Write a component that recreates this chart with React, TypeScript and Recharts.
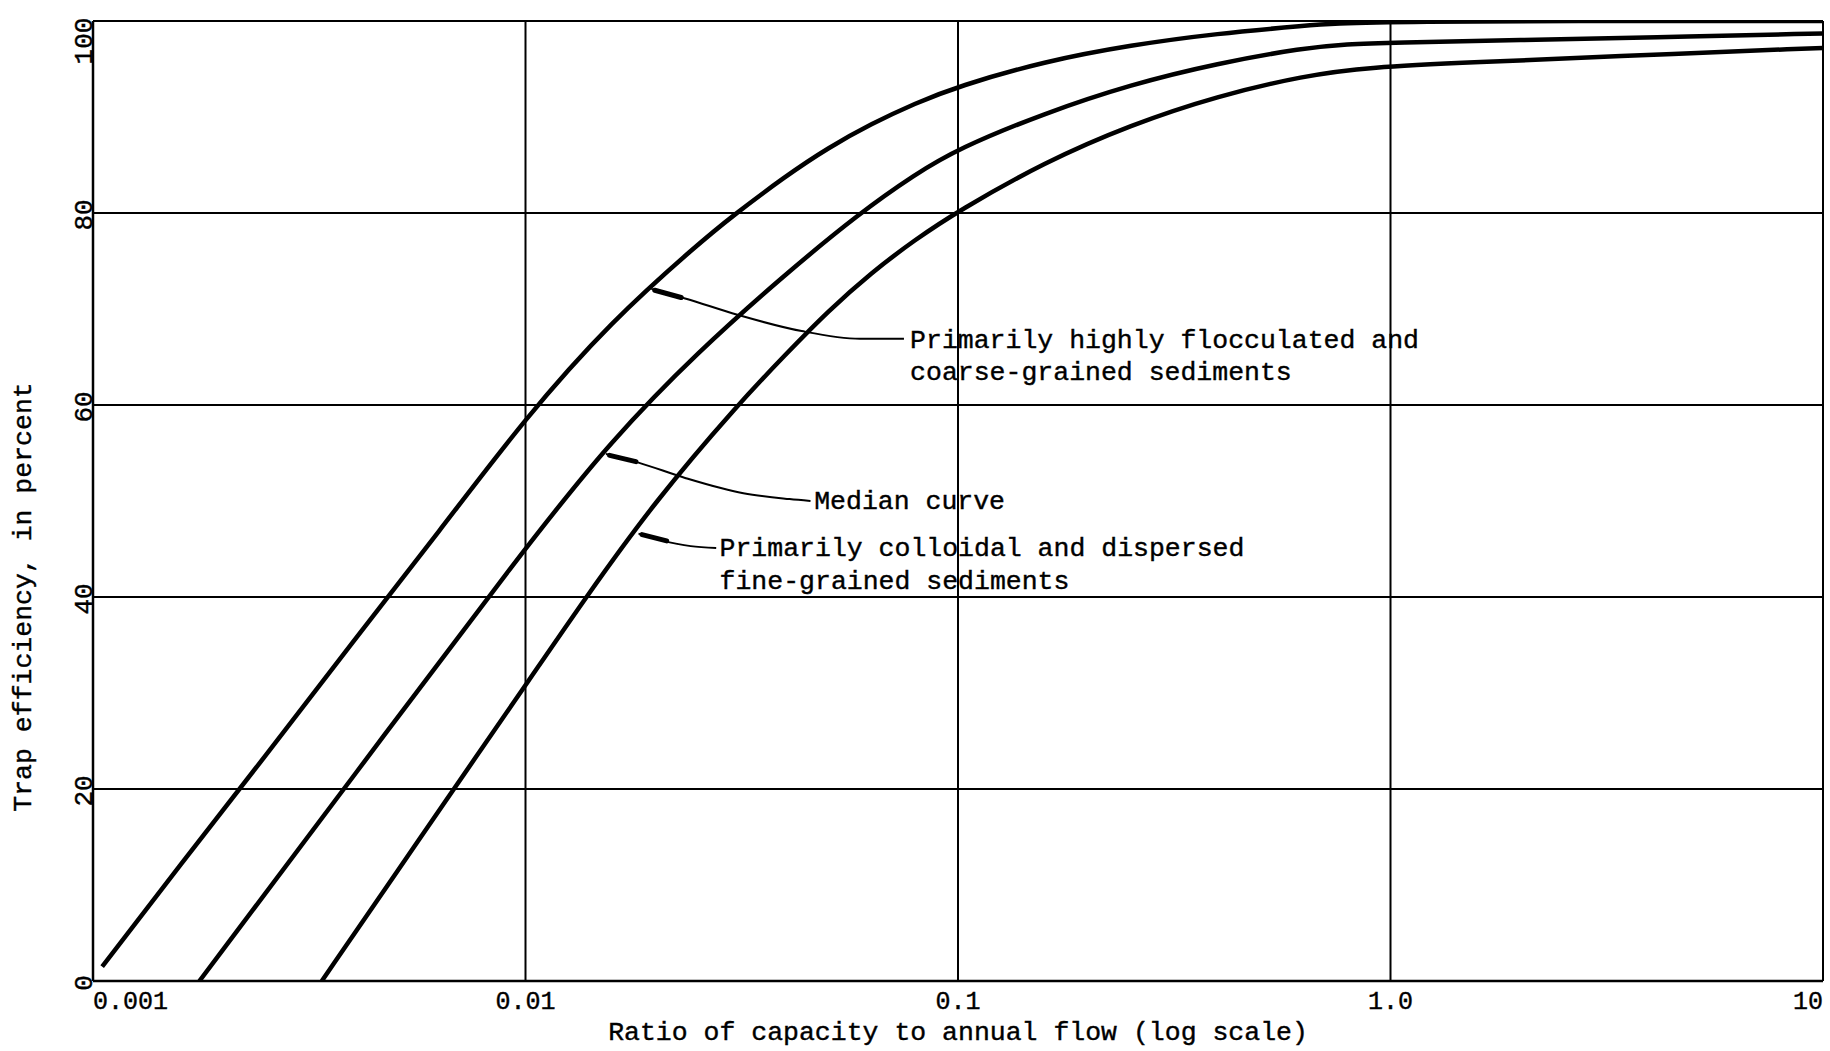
import React from 'react';
import { ComposedChart, Line, XAxis, YAxis, CartesianGrid, Scatter } from 'recharts';

if (typeof document !== 'undefined') {
  document.body.style.margin = '0';
  document.body.style.overflow = 'hidden';
}

const FONT = '"Liberation Mono", "DejaVu Sans Mono", monospace';

const xTicks = [0.001, 0.01, 0.1, 1, 10];
const xTickLabels = ['0.001', '0.01', '0.1', '1.0', '10'];
const yTicks = [0, 20, 40, 60, 80, 100];
const yTickLabels = ['0', '20', '40', '60', '80', '100'];

const xTitle = 'Ratio of capacity to annual flow (log scale)';
const yTitle = 'Trap efficiency, in percent';

// Primarily highly flocculated and coarse-grained sediments (upper envelope)
const flocculated = [
  { x: 0.00105, y: 1.5 }, { x: 0.001585, y: 12 }, { x: 0.002512, y: 23.5 }, { x: 0.003981, y: 35.3 },
  { x: 0.00631, y: 46.8 }, { x: 0.01, y: 58.7 }, { x: 0.01585, y: 68.8 }, { x: 0.02512, y: 76.8 },
  { x: 0.02992, y: 79.6 }, { x: 0.03981, y: 83.8 }, { x: 0.05012, y: 86.8 },
  { x: 0.0631, y: 89.3 }, { x: 0.07943, y: 91.4 }, { x: 0.1, y: 93.2 }, { x: 0.1585, y: 95.8 },
  { x: 0.2512, y: 97.5 }, { x: 0.3981, y: 98.7 }, { x: 0.631, y: 99.5 }, { x: 0.851, y: 100 },
  { x: 10, y: 100 },
];

// Median curve
const median = [
  { x: 0.001762, y: 0 }, { x: 0.003981, y: 21.2 }, { x: 0.01, y: 45.2 }, { x: 0.01585, y: 56.4 },
  { x: 0.02512, y: 65.6 }, { x: 0.03981, y: 73.6 }, { x: 0.05929, y: 80 },
  { x: 0.07943, y: 84 }, { x: 0.1, y: 86.7 }, { x: 0.1585, y: 90.4 }, { x: 0.2512, y: 93.4 },
  { x: 0.3981, y: 95.6 }, { x: 0.631, y: 97.2 }, { x: 0.7943, y: 97.6 }, { x: 1, y: 97.75 },
  { x: 1.995, y: 98.0 }, { x: 3.981, y: 98.3 }, { x: 10, y: 98.7 },
];

// Primarily colloidal and dispersed fine-grained sediments (lower envelope)
const colloidal = [
  { x: 0.003381, y: 0 }, { x: 0.005012, y: 11.2 }, { x: 0.007943, y: 24.3 }, { x: 0.01, y: 30.8 },
  { x: 0.0138, y: 40 }, { x: 0.01995, y: 50 }, { x: 0.0309, y: 60 }, { x: 0.03981, y: 65.2 },
  { x: 0.05012, y: 69.8 }, { x: 0.0631, y: 73.8 }, { x: 0.07943, y: 77.2 }, { x: 0.1, y: 80.2 },
  { x: 0.1585, y: 85.3 }, { x: 0.2512, y: 89.2 }, { x: 0.3981, y: 92.2 }, { x: 0.631, y: 94.3 },
  { x: 0.8913, y: 95.2 }, { x: 1.585, y: 95.7 }, { x: 3.162, y: 96.3 }, { x: 10, y: 97.2 },
];

// Leader lines from labels to curves
const leaderFlocculated = [
  { x: 0.01954, y: 72.1 }, { x: 0.02339, y: 71.1 }, { x: 0.0309, y: 69.4 },
  { x: 0.0435, y: 67.7 }, { x: 0.0593, y: 66.9 }, { x: 0.075, y: 66.9 },
];
const leaderMedian = [
  { x: 0.01535, y: 54.9 }, { x: 0.01825, y: 54.0 }, { x: 0.02339, y: 52.4 },
  { x: 0.0319, y: 50.8 }, { x: 0.0408, y: 50.2 }, { x: 0.0456, y: 50.0 },
];
const leaderColloidal = [
  { x: 0.01825, y: 46.6 }, { x: 0.02065, y: 45.9 }, { x: 0.0241, y: 45.3 }, { x: 0.0276, y: 45.1 },
];

// Arrow heads (thick short segments near curve)
const arrowFlocculated = [{ x: 0.0199, y: 71.95 }, { x: 0.0229, y: 71.2 }];
const arrowMedian = [{ x: 0.01565, y: 54.75 }, { x: 0.0180, y: 54.1 }];
const arrowColloidal = [{ x: 0.0186, y: 46.5 }, { x: 0.0212, y: 45.85 }];

// Annotation text lines
const annotations = [
  { x: 0.0775, y: 66.7, text: 'Primarily highly flocculated and' },
  { x: 0.0775, y: 63.3, text: 'coarse-grained sediments' },
  { x: 0.0465, y: 49.9, text: 'Median curve' },
  { x: 0.0281, y: 45.0, text: 'Primarily colloidal and dispersed' },
  { x: 0.0281, y: 41.6, text: 'fine-grained sediments' },
];

const XTick = (props: any) => {
  const { x, y, payload } = props;
  const i = xTicks.indexOf(payload.value);
  const anchor = i === 0 ? 'start' : i === xTicks.length - 1 ? 'end' : 'middle';
  return (
    <text x={x} y={y + 28} textAnchor={anchor} fontFamily={FONT} fontSize={25} fill="#000" stroke="#000" strokeWidth={0.4}>
      {xTickLabels[i] ?? String(payload.value)}
    </text>
  );
};

const YTick = (props: any) => {
  const { x, y, payload } = props;
  const i = yTicks.indexOf(payload.value);
  const cy = payload.value === 100 ? y + 20 : y + 2;
  const bx = x - 1;
  return (
    <text
      x={bx}
      y={cy}
      transform={`rotate(-90, ${bx}, ${cy})`}
      textAnchor="middle"
      fontFamily={FONT}
      fontSize={26}
      fill="#000"
      stroke="#000"
      strokeWidth={0.4}
    >
      {yTickLabels[i] ?? String(payload.value)}
    </text>
  );
};

const AnnotationShape = (props: any) => {
  const { cx, cy } = props;
  const text = props.payload?.text ?? props.text;
  return (
    <text x={cx} y={cy} dominantBaseline="central" textAnchor="start" fontFamily={FONT} fontSize={26.5} fill="#000" stroke="#000" strokeWidth={0.4}>
      {text}
    </text>
  );
};

const XTitle = (props: any) => {
  const vb = props.viewBox || {};
  const cx = vb.x + vb.width / 2;
  return (
    <text x={cx} y={1040} textAnchor="middle" fontFamily={FONT} fontSize={26.5} fill="#000" stroke="#000" strokeWidth={0.4}>
      {xTitle}
    </text>
  );
};

const YTitle = (props: any) => {
  const vb = props.viewBox || {};
  const cy = vb.y + vb.height / 2 + 96;
  const cx = 24;
  return (
    <text
      x={cx}
      y={cy}
      transform={`rotate(-90, ${cx}, ${cy})`}
      textAnchor="middle"
      dominantBaseline="central"
      fontFamily={FONT}
      fontSize={26.5}
      fill="#000"
      stroke="#000"
      strokeWidth={0.4}
    >
      {yTitle}
    </text>
  );
};

export default function App() {
  return (
    <div style={{ width: 1830, height: 1051, background: '#fff', overflow: 'hidden' }}>
      <ComposedChart width={1830} height={1051} margin={{ top: 21, right: 7, bottom: 0, left: 0 }}>
        <CartesianGrid stroke="#000" strokeWidth={2} />
        <XAxis
          type="number"
          dataKey="x"
          scale="log"
          domain={[0.001, 10]}
          ticks={xTicks}
          allowDataOverflow
          height={70}
          tickSize={0}
          tickMargin={0}
          tickLine={false}
          axisLine={{ stroke: '#000', strokeWidth: 2.5 }}
          tick={<XTick />}
          label={<XTitle />}
          interval={0}
        />
        <YAxis
          type="number"
          dataKey="y"
          domain={[0, 100]}
          ticks={yTicks}
          allowDataOverflow
          width={93}
          tickSize={0}
          tickMargin={0}
          tickLine={false}
          axisLine={{ stroke: '#000', strokeWidth: 2.5 }}
          tick={<YTick />}
          label={<YTitle />}
          interval={0}
        />
        <Line data={flocculated} dataKey="y" type="basis" stroke="#000" strokeWidth={4.5} dot={false} isAnimationActive={false} />
        <Line data={median} dataKey="y" type="basis" stroke="#000" strokeWidth={4.5} dot={false} isAnimationActive={false} />
        <Line data={colloidal} dataKey="y" type="basis" stroke="#000" strokeWidth={4.5} dot={false} isAnimationActive={false} />
        <Line data={leaderFlocculated} dataKey="y" type="monotone" stroke="#000" strokeWidth={2} dot={false} isAnimationActive={false} />
        <Line data={leaderMedian} dataKey="y" type="monotone" stroke="#000" strokeWidth={2} dot={false} isAnimationActive={false} />
        <Line data={leaderColloidal} dataKey="y" type="monotone" stroke="#000" strokeWidth={2} dot={false} isAnimationActive={false} />
        <Line data={arrowFlocculated} dataKey="y" type="linear" stroke="#000" strokeWidth={5} strokeLinecap="round" dot={false} isAnimationActive={false} />
        <Line data={arrowMedian} dataKey="y" type="linear" stroke="#000" strokeWidth={5} strokeLinecap="round" dot={false} isAnimationActive={false} />
        <Line data={arrowColloidal} dataKey="y" type="linear" stroke="#000" strokeWidth={5} strokeLinecap="round" dot={false} isAnimationActive={false} />
        <Scatter data={annotations} dataKey="y" shape={<AnnotationShape />} isAnimationActive={false} />
      </ComposedChart>
    </div>
  );
}
